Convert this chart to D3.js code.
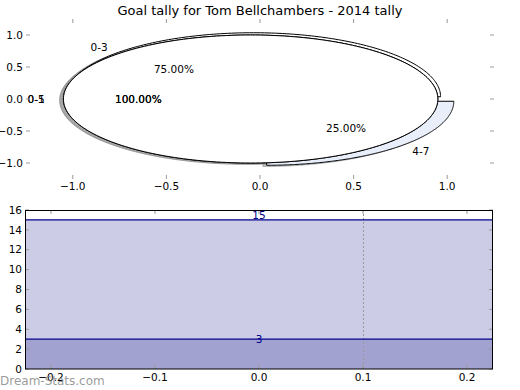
<!DOCTYPE html>
<html>
<head>
<meta charset="utf-8">
<script src="https://cdn.jsdelivr.net/npm/d3@7"></script>
<style>
  body { margin: 0; background: #fff; }
  text { font-family: "DejaVu Sans", sans-serif; }
</style>
</head>
<body>
<script>
// -- data --
var titleText = "Goal tally for Tom Bellchambers - 2014 tally";

// three pies drawn on the same axes (the split one first, the full ones over it)
var pieOneLabels = ["0-3", "4-7"], pieOneValues = [3, 1];
var pieTwoLabels = ["0-5"], pieTwoValues = [1];
var pieThreeLabels = ["0-1"], pieThreeValues = [1];

var topTicks = [-1, -0.5, 0, 0.5, 1];

// band chart underneath
var bandLevels = [3, 15];
var bottomXTicks = [-0.2, -0.1, 0, 0.1, 0.2];
var bottomYTicks = [0, 2, 4, 6, 8, 10, 12, 14, 16];
var gridX = [0.1];

var W = 520, H = 390;
var explode = 0.05;
var tickCol = "#999";

var svg = d3.select("body").append("svg")
    .attr("width", W).attr("height", H);

svg.append("text")
    .attr("x", 260).attr("y", 15)
    .attr("text-anchor", "middle")
    .attr("font-size", 13)
    .text(titleText);

// ---------------- top: the pies ----------------
var xT = d3.scaleLinear().domain([-1.25, 1.25]).range([26, 494]),
    yT = d3.scaleLinear().domain([-1.25, 1.25]).range([179, 19]);

var line = d3.line().x(function(d){ return xT(d[0]); }).y(function(d){ return yT(d[1]); });

var pies = [
    {labels: pieOneLabels, values: pieOneValues, colors: ["#ffffff", "#e8eefa"]},
    {labels: pieTwoLabels, values: pieTwoValues, colors: ["#ffffff"]},
    {labels: pieThreeLabels, values: pieThreeValues, colors: ["#ffffff"]}
];

var wedges = [];
pies.forEach(function(p){
    var arcs = d3.pie().sort(null).startAngle(0).endAngle(2 * Math.PI)(p.values);
    var total = d3.sum(p.values);
    arcs.forEach(function(a, i){
        var mid = (a.startAngle + a.endAngle) / 2;
        var cx = explode * Math.cos(mid), cy = explode * Math.sin(mid);
        var full = (a.endAngle - a.startAngle) > 2 * Math.PI - 1e-6;
        var pts = [];
        if (!full) pts.push([cx, cy]);
        var n = 240;
        for (var k = 0; k <= n; k++) {
            var t = a.startAngle + (a.endAngle - a.startAngle) * k / n;
            pts.push([cx + Math.cos(t), cy + Math.sin(t)]);
        }
        wedges.push({
            pts: pts, color: p.colors[i % p.colors.length],
            label: p.labels[i], pct: (100 * p.values[i] / total).toFixed(2) + "%",
            mid: mid, cx: cx, cy: cy
        });
    });
});

var topG = svg.append("g");

// shadows first (they sit under every wedge)
topG.selectAll("path.shadow").data(wedges).enter().append("path")
    .attr("class", "shadow")
    .attr("d", function(d){
        return line(d.pts.map(function(p){ return [p[0] - 0.02, p[1] - 0.02]; })) + "Z";
    })
    .attr("fill", function(d){ return d3.rgb(d.color).darker(1.7); })
    .attr("fill-opacity", 0.5)
    .attr("stroke", function(d){ return d3.rgb(d.color).darker(1.7); })
    .attr("stroke-opacity", 0.5)
    .attr("stroke-width", 1);

topG.selectAll("path.wedge").data(wedges).enter().append("path")
    .attr("class", "wedge")
    .attr("d", function(d){ return line(d.pts) + "Z"; })
    .attr("fill", function(d){ return d.color; })
    .attr("stroke", "#000")
    .attr("stroke-width", 1)
    .attr("stroke-linejoin", "miter");

wedges.forEach(function(d){
    var lx = d.cx + 1.1 * Math.cos(d.mid), ly = d.cy + 1.1 * Math.sin(d.mid);
    var anchor = Math.abs(lx) < 1e-9 ? "middle" : (lx > 0 ? "start" : "end");
    topG.append("text")
        .attr("x", xT(lx)).attr("y", yT(ly))
        .attr("dy", "0.35em")
        .attr("text-anchor", anchor)
        .attr("font-size", 10.5)
        .text(d.label);
    var px = d.cx + 0.6 * Math.cos(d.mid), py = d.cy + 0.6 * Math.sin(d.mid);
    topG.append("text")
        .attr("x", xT(px)).attr("y", yT(py))
        .attr("dy", "0.35em")
        .attr("text-anchor", "middle")
        .attr("font-size", 10.5)
        .text(d.pct);
});

// ticks (no frame on the pie axes)
topTicks.forEach(function(v){
    topG.append("line").attr("x1", xT(v)).attr("x2", xT(v)).attr("y1", 179).attr("y2", 175).attr("stroke", tickCol);
    topG.append("line").attr("x1", xT(v)).attr("x2", xT(v)).attr("y1", 19).attr("y2", 23).attr("stroke", tickCol);
    topG.append("line").attr("y1", yT(v)).attr("y2", yT(v)).attr("x1", 26).attr("x2", 30).attr("stroke", tickCol);
    topG.append("line").attr("y1", yT(v)).attr("y2", yT(v)).attr("x1", 494).attr("x2", 490).attr("stroke", tickCol);
    topG.append("text").attr("x", xT(v)).attr("y", 190).attr("text-anchor", "middle")
        .attr("font-size", 10.5).text(d3.format(".1f")(v));
    topG.append("text").attr("x", 23).attr("y", yT(v)).attr("dy", "0.35em").attr("text-anchor", "end")
        .attr("font-size", 10.5).text(d3.format(".1f")(v));
});

// ---------------- bottom: the bands ----------------
var xB = d3.scaleLinear().domain([-0.225, 0.225]).range([25, 493]),
    yB = d3.scaleLinear().domain([0, 16]).range([369, 210]);

var bot = svg.append("g");
var bandFills = ["#a2a2d0", "#ccccE6"];
var lows = [0].concat(bandLevels.slice(0, -1));

bot.selectAll("rect.band").data(bandLevels).enter().append("rect")
    .attr("class", "band")
    .attr("x", xB(-0.225)).attr("width", xB(0.225) - xB(-0.225))
    .attr("y", function(d){ return yB(d); })
    .attr("height", function(d, i){ return yB(lows[i]) - yB(d); })
    .attr("fill", function(d, i){ return bandFills[i]; });

gridX.forEach(function(v){
    bot.append("line").attr("x1", xB(v) + 0.5).attr("x2", xB(v) + 0.5).attr("y1", yB(16)).attr("y2", yB(0))
        .attr("stroke", "#999").attr("stroke-dasharray", "2,2");
});

bot.selectAll("line.level").data(bandLevels).enter().append("line")
    .attr("class", "level")
    .attr("x1", xB(-0.225)).attr("x2", xB(0.225))
    .attr("y1", function(d){ return yB(d); }).attr("y2", function(d){ return yB(d); })
    .attr("stroke", "#00008b").attr("stroke-width", 1.2);

bot.selectAll("text.level").data(bandLevels).enter().append("text")
    .attr("class", "level")
    .attr("x", xB(0)).attr("y", function(d){ return yB(d); })
    .attr("dy", function(d, i){ return i === bandLevels.length - 1 ? "-0.05em" : "0.35em"; })
    .attr("text-anchor", "middle")
    .attr("font-size", 10.5)
    .attr("fill", "#00008b")
    .text(function(d){ return d; });

bottomXTicks.forEach(function(v){
    bot.append("line").attr("x1", xB(v)).attr("x2", xB(v)).attr("y1", 369).attr("y2", 365).attr("stroke", tickCol);
    bot.append("line").attr("x1", xB(v)).attr("x2", xB(v)).attr("y1", 210).attr("y2", 214).attr("stroke", tickCol);
    bot.append("text").attr("x", xB(v)).attr("y", 381).attr("text-anchor", "middle")
        .attr("font-size", 10.5).text(d3.format(".1f")(v));
});
bottomYTicks.forEach(function(v){
    bot.append("line").attr("y1", yB(v)).attr("y2", yB(v)).attr("x1", 25).attr("x2", 29).attr("stroke", tickCol);
    bot.append("line").attr("y1", yB(v)).attr("y2", yB(v)).attr("x1", 493).attr("x2", 489).attr("stroke", tickCol);
    bot.append("text").attr("x", 22).attr("y", yB(v)).attr("dy", "0.35em").attr("text-anchor", "end")
        .attr("font-size", 10.5).text(v);
});

bot.append("rect")
    .attr("x", 25.5).attr("y", 210.5).attr("width", 467).attr("height", 158.5)
    .attr("fill", "none").attr("stroke", "#000").attr("stroke-width", 1);

// watermark
svg.append("text")
    .attr("x", 0).attr("y", 385)
    .attr("font-size", 12)
    .attr("fill", "#888").attr("fill-opacity", 0.85)
    .text("Dream-Stats.com");
</script>
</body>
</html>
